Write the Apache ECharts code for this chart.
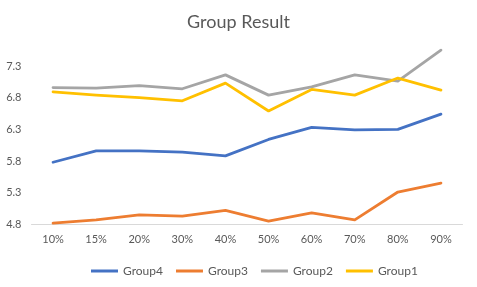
<!DOCTYPE html>
<html><head><meta charset="utf-8">
<script src="https://cdn.jsdelivr.net/npm/echarts@6/dist/echarts.min.js"></script>
<style>html,body{margin:0;padding:0;background:#fff}#c{width:477px;height:287px}</style>
</head><body><div id="c"></div>
<script>
const categories = ['10%','15%','20%','30%','40%','50%','60%','70%','80%','90%'];
const group4 = [5.78,5.96,5.96,5.94,5.88,6.14,6.33,6.29,6.30,6.54];
const group3 = [4.82,4.87,4.95,4.93,5.02,4.85,4.98,4.87,5.31,5.45];
const group2 = [6.96,6.95,6.99,6.94,7.16,6.84,6.97,7.16,7.06,7.55];
const group1 = [6.89,6.84,6.80,6.75,7.03,6.59,6.93,6.84,7.11,6.92];
const seriesNames = ['Group4','Group3','Group2','Group1'];
const seriesData = [group4, group3, group2, group1];
const colors = ['#4472C4','#ED7D31','#A5A5A5','#FFC000'];
const font = 'Lato, "Open Sans", sans-serif';
const chart = echarts.init(document.getElementById('c'));
chart.setOption({
  animation:false,
  title:{text:'Group Result',left:'center',top:8,textStyle:{fontFamily:font,fontSize:18,fontWeight:'normal',color:'#595959'}},
  legend:{top:260,left:86,icon:'rect',itemWidth:27,itemHeight:3,itemGap:13,
    textStyle:{fontFamily:font,fontSize:12,color:'#595959'},data:seriesNames},
  grid:{left:31.5,right:14.5,top:47,bottom:62.7},
  xAxis:{type:'category',data:categories,boundaryGap:true,
    axisLine:{lineStyle:{color:'#D9D9D9'}},axisTick:{show:false},
    axisLabel:{fontFamily:font,fontSize:11,color:'#595959',margin:10}},
  yAxis:{type:'value',min:4.8,max:7.6,interval:0.5,
    axisLine:{show:false},axisTick:{show:false},splitLine:{show:false},
    axisLabel:{fontFamily:font,fontSize:11,color:'#595959',margin:10,showMaxLabel:false,formatter:v=>v.toFixed(1)}},
  series:seriesNames.map((n,i)=>({name:n,type:'line',data:seriesData[i],symbol:'none',
    lineStyle:{width:2.8,color:colors[i],cap:'round',join:'round'},itemStyle:{color:colors[i]}}))
});
</script></body></html>
